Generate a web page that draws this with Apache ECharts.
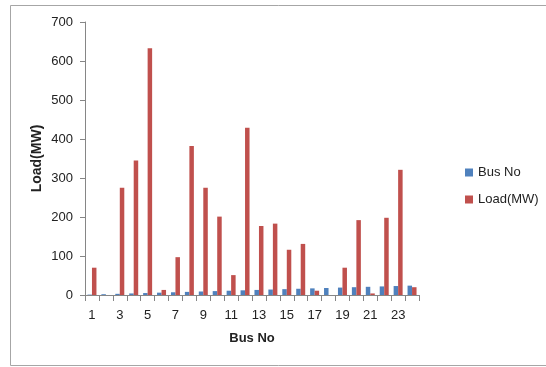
<!DOCTYPE html>
<html>
<head>
<meta charset="utf-8">
<script src="https://cdn.jsdelivr.net/npm/echarts@6/dist/echarts.min.js"></script>
<style>
  html, body { margin: 0; padding: 0; background: #fff; }
  #main { width: 546px; height: 367px; }
</style>
</head>
<body>
<div id="main"></div>
<script>
var chart = echarts.init(document.getElementById("main"));

var busNo = ['1','2','3','4','5','6','7','8','9','10','11','12','13','14','15','16','17','18','19','20','21','22','23','24'];
var busNoValues = [1,2,3,4,5,6,7,8,9,10,11,12,13,14,15,16,17,18,19,20,21,22,23,24];
var loadMW = [70,0,275,345,633,13,97,382,275,201,51,429,177,183,116,131,11,0,70,192,4,198,321,20];
var yTicks = [0, 700, 100];

var fontFam = '"Liberation Sans", Arial, sans-serif';

option = {
    animation: false,
    backgroundColor: '#fff',
    graphic: [{
        type: 'rect',
        shape: { x: 10.5, y: 5.5, width: 540, height: 360 },
        style: { fill: 'none', stroke: '#a6a6a6', lineWidth: 1 }
    }],
    color: ['#4F81BD', '#C0504D'],
    legend: {
        orient: 'vertical',
        left: 460,
        top: 161,
        itemWidth: 8,
        itemHeight: 8,
        itemGap: 14,
        icon: 'rect',
        textStyle: { fontFamily: fontFam, fontSize: 13, color: '#222' },
        data: ['Bus No', 'Load(MW)']
    },
    grid: {
        left: 85,
        right: 127,
        top: 22,
        bottom: 72
    },
    xAxis: {
        type: 'category',
        data: busNo,
        name: 'Bus No',
        nameLocation: 'middle',
        nameGap: 37,
        nameTextStyle: { fontFamily: fontFam, fontSize: 13, fontWeight: 'bold', color: '#222' },
        axisLine: { lineStyle: { color: '#868686' } },
        axisTick: { show: true, interval: 0, length: 6, lineStyle: { color: '#868686' } },
        axisLabel: { interval: 1, fontFamily: fontFam, fontSize: 13, color: '#222', margin: 14 },
        splitLine: { show: false }
    },
    yAxis: {
        type: 'value',
        min: yTicks[0],
        max: yTicks[1],
        interval: yTicks[2],
        name: 'Load(MW)',
        nameLocation: 'middle',
        nameGap: 41,
        nameMoveOverlap: false,
        nameTextStyle: { fontFamily: fontFam, fontSize: 14, fontWeight: 'bold', color: '#222' },
        axisLine: { show: true, lineStyle: { color: '#868686' } },
        axisTick: { show: true, length: 5, lineStyle: { color: '#868686' } },
        axisLabel: { fontFamily: fontFam, fontSize: 13, color: '#222', margin: 12 },
        splitLine: { show: false }
    },
    series: [{
        name: 'Bus No',
        type: 'bar',
        barWidth: 4.5,
        barGap: '0%',
        data: busNoValues
    }, {
        name: 'Load(MW)',
        type: 'bar',
        barWidth: 4.5,
        barGap: '0%',
        data: loadMW
    }]
};
chart.setOption(option);
</script>
</body>
</html>
